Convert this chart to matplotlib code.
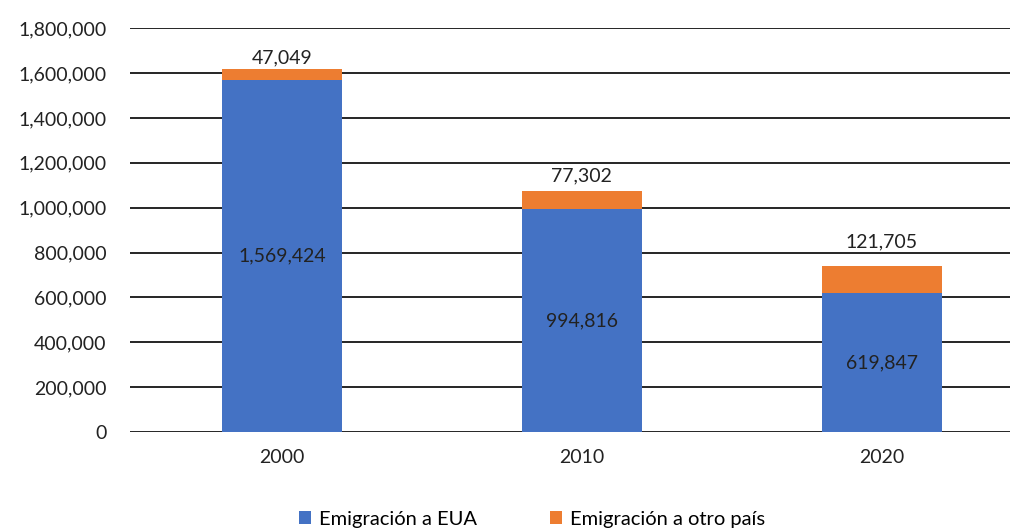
import matplotlib.pyplot as plt
import numpy as np

years = ['2000', '2010', '2020']
eua = [1569424, 994816, 619847]
otro = [47049, 77302, 121705]
yticks = np.arange(0, 1800001, 200000)

plt.rcParams['font.family'] = ['Lato', 'DejaVu Sans']

fig = plt.figure(figsize=(10.2, 5.32), dpi=100)
ax = fig.add_axes([0.1275, 0.188, 0.8625, 0.759])

x = np.arange(len(years))
ax.bar(x, eua, width=0.4, color='#4472C4', label='Emigración a EUA', zorder=3)
ax.bar(x, otro, width=0.4, bottom=eua, color='#ED7D31', label='Emigración a otro país', zorder=3)

# label offsets above the stack (points), placed by hand like the original
top_off = [2, 5, 11]
for i in range(len(years)):
    ax.text(x[i], eua[i] / 2, f'{eua[i]:,}', ha='center', va='center', fontsize=14, color='#222222', zorder=4)
    ax.annotate(f'{otro[i]:,}', (x[i], eua[i] + otro[i]), xytext=(0, top_off[i]),
                textcoords='offset points', ha='center', va='bottom', fontsize=14, color='#222222', zorder=4)

ax.set_ylim(0, 1800000)
ax.set_xlim(-0.507, 2.427)
ax.set_yticks(yticks)
ax.set_yticklabels([f'{v:,}' for v in yticks])
ax.set_xticks(x)
ax.set_xticklabels(years)
ax.tick_params(axis='both', length=0, labelsize=14, colors='#222222')
ax.tick_params(axis='y', pad=17)
ax.tick_params(axis='x', pad=12)
ax.yaxis.grid(True, color='black', linewidth=1.2, zorder=0)
ax.set_axisbelow(True)
for s in ax.spines.values():
    s.set_visible(False)

ax.legend(loc='upper center', bbox_to_anchor=(0.457, -0.15), ncol=2, frameon=False,
          fontsize=14.5, handlelength=0.6, handleheight=0.6, columnspacing=3.6, handletextpad=0.4)

fig.savefig('out.png', dpi=100)
